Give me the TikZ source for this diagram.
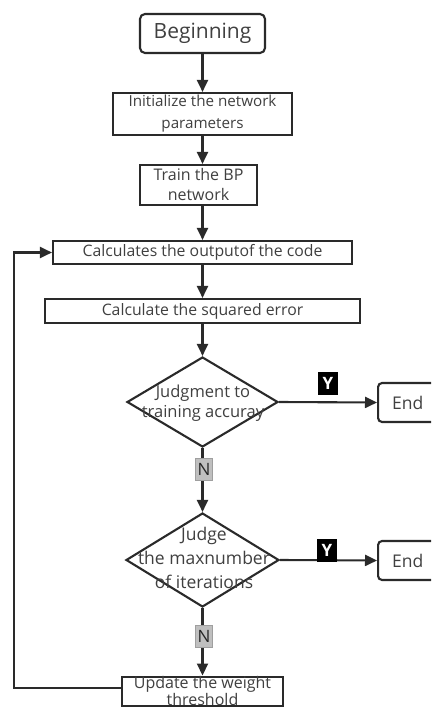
\documentclass[tikz,border=0pt]{standalone}
\usepackage{fontspec}
\setmainfont{Open Sans}
\usetikzlibrary{arrows.meta,shapes.geometric}
\definecolor{ln}{HTML}{2A2A2A}
\definecolor{tx}{HTML}{404040}
\begin{document}
\begin{tikzpicture}[x=1pt,y=-1pt,
  box/.style={draw=ln,line width=2.1pt,fill=white,inner sep=0pt,align=center,text=tx,font=\fontsize{15.2}{22}\selectfont},
  dia/.style={draw=ln,line width=2.1pt,diamond,inner sep=0pt,fill=white},
  dtext/.style={align=center,text=tx,inner sep=0pt},
  arr/.style={draw=ln,line width=2.1pt,-{Triangle[length=12pt,width=11pt]}},
  ylab/.style={fill=black,text=white,font=\bfseries\fontsize{17}{17}\selectfont,minimum width=20pt,minimum height=23pt,inner sep=0pt},
  nlab/.style={fill=gray!50,draw=gray!75,text=black!85,font=\fontsize{17}{17}\selectfont,minimum width=17pt,minimum height=22pt,inner sep=0pt}]
\useasboundingbox (0,0) rectangle (431,708);
\clip (0,0) rectangle (431,708);
% nodes
\node[box,rounded corners=5pt,minimum width=125pt,minimum height=39pt,font=\fontsize{21}{24}\selectfont] (begin) at (202.5,33.5) {Beginning};
\node[box,minimum width=179pt,minimum height=42pt] (init) at (202.5,114) {Initialize the network\\parameters};
\node[box,minimum width=117pt,minimum height=40pt,font=\fontsize{16}{20}\selectfont] (train) at (198.5,185) {Train the BP\\network};
\node[box,minimum width=299pt,minimum height=23pt,font=\fontsize{15.8}{17}\selectfont] (out) at (202.5,252.5) {Calculates the outputof the code};
\node[box,minimum width=315pt,minimum height=24pt,font=\fontsize{15.8}{17}\selectfont] (sq) at (202.5,311) {Calculate the squared error};
\node[dia,minimum width=151pt,minimum height=90pt] (d1) at (202.5,402) {};
\node[dtext,font=\fontsize{16.5}{20}\selectfont] (d1t) at (203,403) {Judgment to\\training accuray};
\node[box,rounded corners=4pt,anchor=west,minimum height=39pt,inner xsep=14pt,font=\fontsize{17.5}{18}\selectfont] (end1) at (377,402.5) {End\hspace*{45pt}};
\node[dia,minimum width=153pt,minimum height=94pt] (d2) at (202.5,560) {};
\node[dtext,font=\fontsize{17.5}{24}\selectfont] (d2t) at (204,558) {Judge\\the maxnumber\\of iterations};
\node[box,rounded corners=4pt,anchor=west,minimum height=39pt,inner xsep=14pt,font=\fontsize{17.5}{18}\selectfont] (end2) at (377,560.5) {End\hspace*{45pt}};
\node[box,anchor=north,minimum width=161pt,inner ysep=0pt,font=\fontsize{16}{17}\selectfont] (upd) at (202.5,675.5) {Update the weight\\threshold};
\coordinate (lp) at (14,450);
% connectors
\draw[arr] (begin) -- (init);
\draw[arr] (init.south) -- (init.south |- train.north);
\draw[arr] (init.south |- train.south) -- (out.north);
\draw[arr] (out) -- (sq);
\draw[arr] (sq) -- (d1);
\draw[arr] (d1.east) -- (end1.west);
\draw[arr] (d1.south) -- (d2.north);
\draw[arr] (d2.east) -- (end2.west);
\draw[arr] (d2.south) -- (upd.north);
\draw[arr] ([yshift=3pt]upd.west) -| (lp) |- (out.west);
% labels
\node[ylab] (y1) at (328,383.5) {Y};
\node[nlab] (n1) at (204,469) {N};
\node[ylab] (y2) at (327,550) {Y};
\node[nlab] (n2) at (204,636.5) {N};
\end{tikzpicture}
\end{document}
